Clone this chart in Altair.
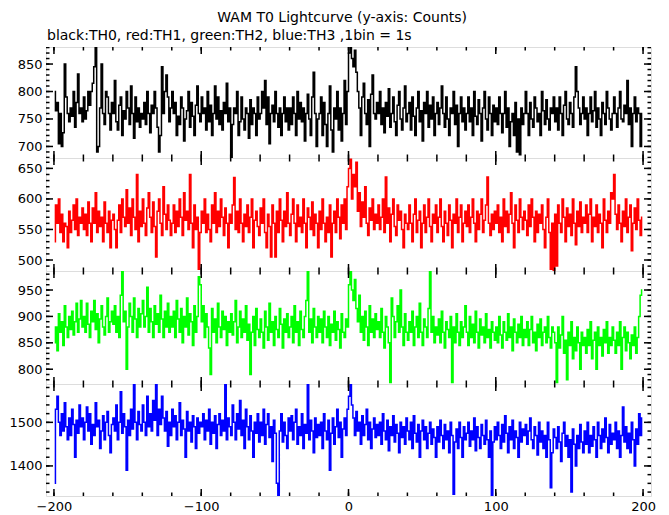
import altair as alt
import pandas as pd

# ---- data (counts per 1 s bin) ----
T_START = -200
TH0 = [
 800,765,780,705,760,700,725,850,790,760,745,770,755,800,735,780,832,760,770,745,
 790,750,765,800,775,800,815,845,880,690,700,770,850,760,740,800,790,760,730,780,
 760,820,745,730,775,790,720,765,750,800,770,740,810,760,715,790,745,770,735,760,
 750,780,740,800,760,725,775,760,800,770,735,690,720,845,760,800,830,790,745,770,
 800,760,780,720,755,740,790,770,710,750,765,800,735,780,755,720,775,810,760,745,
 790,760,770,730,800,745,775,720,760,810,750,790,740,765,730,780,760,815,745,770,
 680,740,770,760,800,720,745,790,750,730,770,760,715,785,740,770,760,720,790,750,
 760,800,770,820,740,790,705,760,775,745,800,760,735,770,720,760,790,745,770,730,
 770,740,790,760,720,800,750,780,745,770,710,760,795,750,720,790,835,760,700,750,
 760,790,720,780,740,700,760,810,730,690,770,750,800,730,770,710,760,820,740,800,
 870,880,860,845,875,835,800,770,720,790,815,760,740,785,700,795,830,760,750,780,
 760,800,740,770,725,780,755,805,735,760,790,745,720,775,800,750,730,770,810,745,
 760,780,730,790,755,720,770,800,745,765,710,780,760,800,735,775,750,790,720,760,
 780,740,770,810,760,735,790,750,720,770,760,800,740,775,700,760,790,745,770,730,
 760,790,745,770,720,800,755,740,785,760,710,770,800,750,730,790,760,720,775,745,
 770,740,790,760,725,760,800,735,770,700,745,760,720,780,690,750,685,770,740,760,
 800,760,720,780,750,735,790,770,745,760,720,800,765,740,785,750,730,770,760,790,
 745,770,730,790,760,720,775,800,750,740,780,760,735,790,845,800,770,740,760,790,
 750,770,720,760,790,745,765,800,735,770,750,720,780,760,740,800,770,750,730,760,
 790,760,735,770,800,750,745,775,760,820,740,770,700,760,790,745,770,760,700,760,
]
TH1 = [
 530,590,560,600,545,575,530,560,555,520,580,545,565,590,550,600,540,570,560,585,
 550,575,540,595,560,530,585,560,610,545,580,555,570,530,595,560,545,580,520,565,
 575,550,520,565,590,545,600,570,555,615,560,585,540,600,570,550,640,530,580,555,
 600,560,540,585,610,570,545,595,555,505,580,600,560,540,620,575,550,590,565,540,
 560,590,545,580,555,600,570,540,610,565,580,550,640,560,520,590,550,570,485,545,
 580,560,600,545,575,550,530,590,560,610,545,580,555,600,570,540,585,560,520,575,
 560,590,635,550,580,545,600,560,530,575,555,590,545,570,600,520,565,580,555,540,
 585,560,600,545,520,575,555,505,590,560,505,580,545,600,565,530,580,555,610,560,
 540,575,600,560,530,590,555,570,545,600,560,520,585,570,550,595,540,575,560,520,
 580,550,600,560,530,570,545,590,505,560,580,545,600,570,535,590,560,600,550,620,
 650,665,600,640,620,660,580,610,555,595,570,620,560,540,585,565,600,550,575,560,
 590,550,570,600,545,636,560,585,530,575,600,555,540,590,565,580,550,520,575,560,
 550,590,560,530,575,600,545,565,580,520,560,590,545,570,600,555,530,575,560,590,
 545,570,600,555,530,580,560,540,590,565,520,575,560,600,545,570,590,530,560,580,
 555,590,545,570,600,560,530,580,550,575,600,545,565,590,636,560,540,575,550,580,
 560,590,545,570,530,600,555,580,545,575,610,560,520,590,565,545,600,570,550,580,
 565,540,590,555,600,570,530,580,545,575,560,590,550,520,570,600,545,485,560,482,
 575,490,590,560,545,600,570,530,585,555,575,540,600,560,525,580,555,595,545,570,
 560,590,545,575,600,530,570,555,590,545,575,560,520,600,565,545,580,560,610,600,
 640,575,550,590,560,530,580,555,600,545,570,590,515,560,585,550,600,565,540,570,
]
TH2 = [
 850,880,835,905,870,890,845,920,880,860,900,875,910,865,890,925,870,895,930,880,
 900,870,925,885,860,910,890,930,875,905,850,895,920,880,865,900,935,870,890,910,
 885,920,870,900,860,940,985,890,910,800,880,925,900,870,935,895,860,915,880,905,
 930,880,900,955,870,915,890,860,920,885,905,870,940,895,860,910,880,925,870,900,
 880,910,860,930,895,870,915,850,900,880,935,865,905,890,845,920,870,900,975,960,
 890,920,860,905,880,840,790,915,870,895,850,925,880,860,910,875,900,845,890,870,
 905,865,890,930,850,880,910,860,895,870,920,855,885,790,870,900,845,915,875,860,
 895,870,840,910,880,855,925,870,890,845,900,875,860,915,885,840,895,870,905,860,
 880,900,850,920,870,890,845,910,875,860,900,930,985,870,895,850,915,880,860,900,
 870,895,850,910,880,860,900,845,885,870,910,855,890,875,840,905,870,860,895,880,
 960,985,950,930,970,915,890,940,870,900,855,910,880,845,920,870,895,860,905,875,
 890,860,915,870,840,900,880,850,775,935,900,860,890,920,870,950,880,845,905,870,
 855,890,870,910,845,880,900,860,925,870,845,895,880,860,915,985,870,900,850,880,
 865,895,850,910,870,840,890,875,860,900,775,880,850,905,870,845,890,860,880,920,
 870,845,900,860,885,850,910,870,840,895,865,880,850,905,860,875,840,890,870,855,
 880,850,900,865,840,890,870,855,905,860,880,835,895,870,850,885,860,900,845,875,
 860,890,845,875,900,850,870,835,885,860,895,845,870,880,850,900,860,840,880,870,
 850,775,880,840,865,900,830,855,780,870,845,890,820,860,835,880,850,800,870,845,
 860,830,875,845,890,820,855,870,800,880,845,860,825,875,850,890,830,860,845,880,
 855,830,870,845,890,800,860,880,835,870,850,820,865,845,880,830,860,900,940,950,
]
TH3 = [
 1360,1530,1560,1500,1470,1520,1480,1545,1490,1460,1510,1470,1530,1495,1420,1505,1475,1540,1490,1510,
 1460,1500,1535,1480,1520,1450,1495,1470,1545,1490,1505,1440,1480,1515,1460,1500,1525,1470,1430,1495,
 1510,1480,1540,1460,1500,1570,1475,1520,1490,1390,1505,1470,1530,1485,1588,1500,1460,1525,1495,1480,
 1540,1500,1470,1560,1490,1520,1480,1550,1505,1588,1470,1530,1495,1560,1510,1480,1525,1445,1500,1470,
 1530,1490,1515,1460,1500,1545,1470,1505,1485,1420,1525,1480,1500,1455,1515,1490,1440,1510,1475,1500,
 1490,1520,1460,1505,1480,1530,1450,1500,1475,1515,1440,1495,1520,1470,1505,1480,1588,1460,1510,1490,
 1470,1540,1500,1460,1520,1485,1550,1470,1505,1440,1530,1490,1460,1515,1480,1420,1500,1475,1520,1455,
 1500,1470,1530,1450,1495,1520,1465,1490,1410,1505,1475,1360,1331,1480,1520,1455,1500,1470,1440,1510,
 1480,1515,1460,1500,1530,1450,1490,1470,1520,1440,1495,1475,1588,1460,1505,1480,1430,1510,1465,1495,
 1470,1500,1440,1520,1480,1460,1505,1390,1475,1510,1450,1490,1530,1465,1500,1420,1485,1510,1470,1530,
 1560,1588,1540,1510,1470,1525,1480,1500,1450,1515,1470,1495,1530,1460,1500,1440,1485,1510,1465,1495,
 1470,1500,1450,1520,1480,1460,1505,1435,1490,1470,1515,1455,1495,1475,1430,1500,1465,1490,1450,1510,
 1480,1460,1500,1440,1515,1475,1455,1495,1420,1480,1505,1460,1490,1440,1475,1500,1450,1485,1465,1420,
 1490,1455,1505,1470,1440,1495,1460,1480,1430,1500,1470,1335,1455,1485,1440,1500,1465,1420,1490,1460,
 1475,1500,1445,1480,1460,1510,1435,1490,1465,1440,1495,1470,1450,1505,1460,1420,1480,1331,1455,1490,
 1460,1500,1470,1440,1495,1455,1515,1475,1430,1490,1460,1505,1440,1480,1465,1420,1500,1455,1485,1470,
 1495,1450,1480,1510,1460,1440,1490,1470,1425,1500,1455,1480,1440,1470,1420,1500,1460,1350,1430,1485,
 1465,1440,1490,1455,1410,1475,1500,1445,1470,1420,1460,1340,1485,1450,1400,1470,1440,1495,1455,1430,
 1480,1450,1500,1430,1470,1445,1490,1460,1420,1500,1470,1440,1485,1455,1510,1465,1430,1495,1450,1475,
 1460,1500,1440,1480,1420,1470,1535,1455,1490,1440,1475,1430,1500,1460,1400,1485,1450,1520,1470,1510,
]

X_LABELS = [-200, -100, 0, 100, 200]
X_MINOR = list(range(-200, 201, 20))
X_DOMAIN = [-205.4, 205.4]

PANELS = [
    # values, color, y-domain, major ticks, minor step, height
    (TH0, "#000000", [679, 881], [700, 750, 800, 850], 10, 111),
    (TH1, "#ff0000", [482, 667], [500, 550, 600, 650], 10, 113),
    (TH2, "#00ff00", [772, 986], [800, 850, 900, 950], 10, 113),
    (TH3, "#0000ff", [1331, 1588], [1400, 1500], 20, 112),
]

W = 605
FONT = "DejaVu Sans"
FS = 13
TFS = 14
MAJ = 7
MIN = 3.5


def panel(vals, color, ydom, ymajor, ystep, h, bottom, title=None):
    df = pd.DataFrame({"t": [T_START + 0.5 + i for i in range(len(vals))], "c": vals})
    xs = alt.Scale(domain=X_DOMAIN, nice=False, zero=False)
    ys = alt.Scale(domain=ydom, nice=False, zero=False)
    if bottom:
        xaxis = alt.Axis(values=X_LABELS, ticks=False, domain=False, grid=False, title=None,
                         labelFontSize=FS, labelFont=FONT, labelColor="black", labelPadding=4,
                         format="d")
    else:
        xaxis = None
    yaxis = alt.Axis(values=ymajor, ticks=False, domain=False, grid=False, title=None,
                     labelFontSize=FS, labelFont=FONT, labelColor="black", labelPadding=4,
                     format="d", minExtent=0)
    line = alt.Chart(df).mark_line(color=color, strokeWidth=1.5, interpolate="step", clip=True).encode(
        x=alt.X("t:Q", scale=xs, axis=xaxis),
        y=alt.Y("c:Q", scale=ys, axis=yaxis),
    )
    lo = int(ydom[0]) // ystep * ystep + ystep
    yminor = [v for v in range(lo, int(ydom[1]) + 1, ystep)]
    xmin_df = pd.DataFrame({"t": X_MINOR})
    xmaj_df = pd.DataFrame({"t": X_LABELS})
    ymin_df = pd.DataFrame({"c": yminor})
    ymaj_df = pd.DataFrame({"c": ymajor})
    layers = [line]
    for d, L in ((xmin_df, MIN), (xmaj_df, MAJ)):
        layers.append(alt.Chart(d).mark_rule(color="black", strokeWidth=1.5, clip=True).encode(
            x=alt.X("t:Q", scale=xs, axis=xaxis), y=alt.value(0), y2=alt.value(L)))
        layers.append(alt.Chart(d).mark_rule(color="black", strokeWidth=1.5, clip=True).encode(
            x=alt.X("t:Q", scale=xs, axis=xaxis), y=alt.value(h), y2=alt.value(h - L)))
    for d, L in ((ymin_df, MIN), (ymaj_df, MAJ)):
        layers.append(alt.Chart(d).mark_rule(color="black", strokeWidth=1.5, clip=True).encode(
            y=alt.Y("c:Q", scale=ys, axis=yaxis), x=alt.value(0), x2=alt.value(L)))
        layers.append(alt.Chart(d).mark_rule(color="black", strokeWidth=1.5, clip=True).encode(
            y=alt.Y("c:Q", scale=ys, axis=yaxis), x=alt.value(W), x2=alt.value(W - L)))
    props = dict(width=W, height=h)
    if title is not None:
        props["title"] = title
    return alt.layer(*layers).properties(**props)


charts = []
for i, (vals, color, ydom, ymaj, ystep, h) in enumerate(PANELS):
    t = None
    if i == 0:
        t = alt.TitleParams("black:TH0, red:TH1, green:TH2, blue:TH3 ,1bin = 1s",
                            anchor="start", fontSize=TFS, fontWeight="normal", font=FONT,
                            color="black", offset=4, frame="group", dx=1)
    charts.append(panel(vals, color, ydom, ymaj, ystep, h, i == len(PANELS) - 1, t))

chart = alt.vconcat(*charts, spacing=0, bounds="flush").properties(
    title=alt.TitleParams("WAM T0 Lightcurve (y-axis: Counts)", anchor="middle", fontSize=TFS,
                          fontWeight="normal", font=FONT, color="black", offset=4, dx=10),
    padding={"top": 2, "left": 0, "right": 0, "bottom": 0},
).configure_view(stroke="black", strokeWidth=1.5).configure(background="white")

chart.save("out.html", embed_options={"renderer": "svg", "actions": False})
